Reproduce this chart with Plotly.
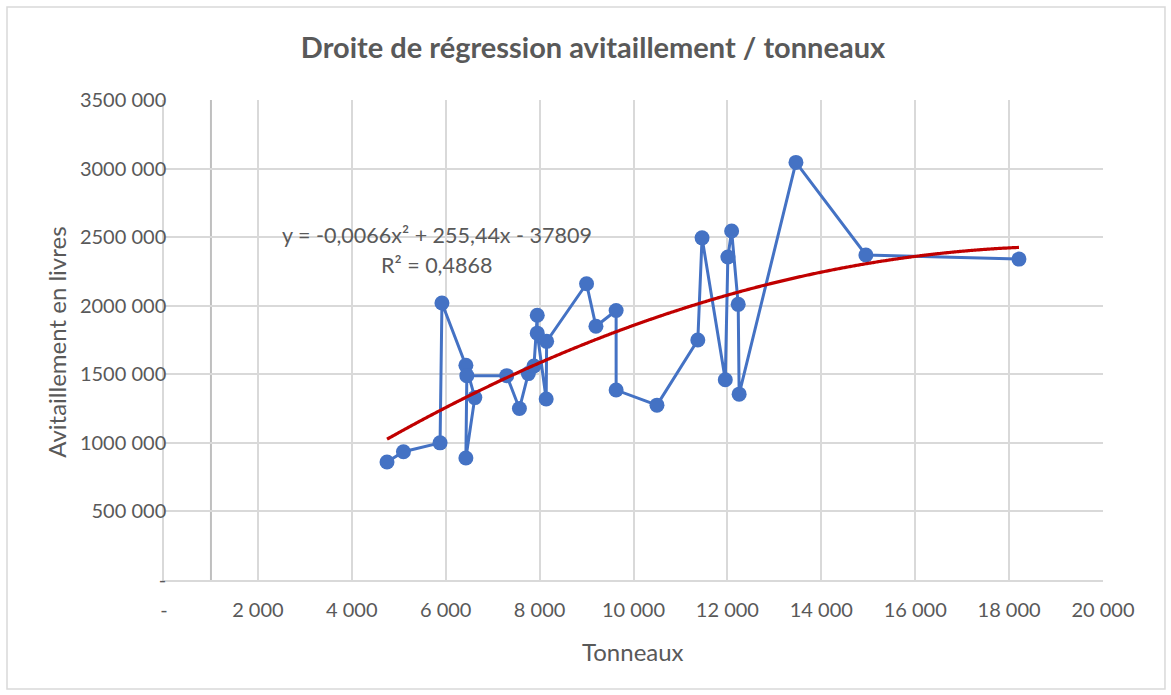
import numpy as np
import plotly.graph_objects as go

# Tonnage and provisioning value (livres), in record order
tonneaux = [4750, 5100, 5880, 5920, 6430, 6620, 6430, 6450, 7300, 7570,
            7760, 7880, 7950, 7950, 8140, 8150, 9000, 9200, 9630, 9630,
            10500, 11370, 11460, 11955, 12010, 12090, 12230, 12250, 13460,
            14950, 18210]
avitaillement = [860000, 935000, 1000000, 2020000, 1565000, 1330000, 890000,
                 1490000, 1490000, 1250000, 1505000, 1560000, 1930000,
                 1800000, 1320000, 1740000, 2160000, 1850000, 1965000,
                 1385000, 1275000, 1750000, 2495000, 1460000, 2355000,
                 2545000, 2010000, 1355000, 3045000, 2370000, 2340000]

# Polynomial trendline (order 2): y = a x^2 + b x + c
coef_a, coef_b, coef_c = -0.0066, 255.44, -37809
r_squared = 0.4868

x_ticks = [0, 2000, 4000, 6000, 8000, 10000, 12000, 14000, 16000, 18000, 20000]
x_tick_text = ["-", "2 000", "4 000", "6 000", "8 000", "10 000", "12 000",
               "14 000", "16 000", "18 000", "20 000"]
y_ticks = [0, 500000, 1000000, 1500000, 2000000, 2500000, 3000000, 3500000]
y_tick_text = ["-", "500 000", "1000 000", "1500 000", "2000 000",
               "2500 000", "3000 000", "3500 000"]

vertical_axis_at = 1000

grey = "#595959"
font_family = "Lato, 'Open Sans', sans-serif"

trend_x = np.linspace(min(tonneaux), max(tonneaux), 300)
trend_y = coef_a * trend_x ** 2 + coef_b * trend_x + coef_c

fig = go.Figure()
fig.add_trace(go.Scatter(
    x=tonneaux, y=avitaillement, mode="lines+markers",
    line=dict(color="#4472C4", width=3),
    marker=dict(color="#4472C4", size=15),
    showlegend=False, hoverinfo="x+y",
))
fig.add_trace(go.Scatter(
    x=trend_x, y=trend_y, mode="lines",
    line=dict(color="#C00000", width=3.2, simplify=False, shape="spline"),
    showlegend=False, hoverinfo="skip",
))

fig.add_shape(type="line", xref="x", yref="y",
              x0=vertical_axis_at, x1=vertical_axis_at, y0=0, y1=y_ticks[-1],
              line=dict(color="#BFBFBF", width=2), layer="below")

# outer chart frame
fig.add_shape(type="rect", xref="paper", yref="paper",
              x0=-0.1672, x1=1.066, y0=-0.227, y1=1.194,
              line=dict(color="#D9D9D9", width=1.5), layer="below")

eq_text = "y = -0,0066x² + 255,44x - 37809"
r2_text = "R² = " + f"{r_squared:.4f}".replace(".", ",")

fig.update_layout(
    width=1171, height=695,
    margin=dict(l=164, r=68, t=100, b=115),
    paper_bgcolor="white", plot_bgcolor="white",
    font=dict(family=font_family, color=grey, size=19),
    title=dict(text="<b>Droite de régression avitaillement / tonneaux</b>",
               x=0.5064, xanchor="center", y=0.931, yanchor="middle",
               font=dict(size=29, color=grey, family=font_family)),
    xaxis=dict(range=[0, 20000], tickvals=x_ticks, ticktext=x_tick_text,
               showgrid=True, gridcolor="#D9D9D9", gridwidth=1.5,
               zeroline=False, showline=True, linecolor="#D9D9D9",
               linewidth=1.5, ticks="", ticklabelstandoff=11,
               tickfont=dict(size=20, color=grey)),
    yaxis=dict(range=[0, 3500000], tickvals=y_ticks, ticktext=y_tick_text,
               showgrid=True, gridcolor="#D9D9D9", gridwidth=1.5,
               zeroline=False, showline=True, linecolor="#D9D9D9",
               linewidth=1.5, ticks="", ticklabelstandoff=-8,
               tickfont=dict(size=20, color=grey)),
    annotations=[
        dict(text="Tonneaux", xref="paper", yref="paper", x=0.4995, y=-0.148,
             xanchor="center", yanchor="middle", showarrow=False,
             font=dict(size=24, color=grey)),
        dict(text="Avitaillement en livres", xref="paper", yref="paper",
             x=-0.114, y=0.496, xanchor="center", yanchor="middle",
             textangle=-90, showarrow=False, font=dict(size=24, color=grey)),
        dict(text=eq_text, xref="paper", yref="paper", x=0.2907, y=0.719,
             xanchor="center", yanchor="middle", showarrow=False,
             font=dict(size=21.5, color=grey)),
        dict(text=r2_text, xref="paper", yref="paper", x=0.2897, y=0.656,
             xanchor="center", yanchor="middle", showarrow=False,
             font=dict(size=21.5, color=grey)),
    ],
)

fig.write_html("out.html")
